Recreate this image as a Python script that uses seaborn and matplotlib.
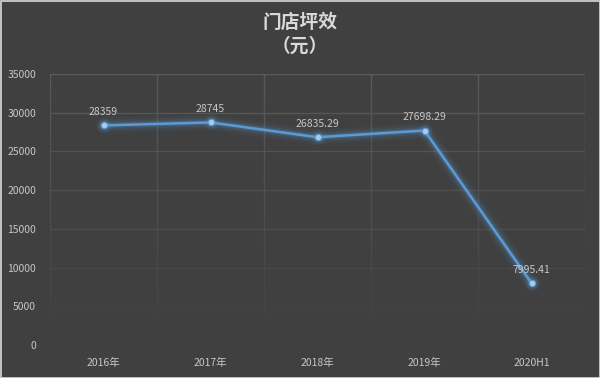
import numpy as np
import pandas as pd
import matplotlib
matplotlib.use("Agg")
import matplotlib.pyplot as plt
import seaborn as sns
from matplotlib.collections import LineCollection

categories = ["2016年", "2017年", "2018年", "2019年", "2020H1"]
values = [28359, 28745, 26835.29, 27698.29, 7995.41]
value_labels = ["28359", "28745", "26835.29", "27698.29", "7995.41"]
yticks = [0, 5000, 10000, 15000, 20000, 25000, 30000, 35000]

sns.set_theme(style="dark")
plt.rcParams['font.family'] = ['Noto Sans CJK SC', 'DejaVu Sans']

BG = "#404040"
GRID = "#5a5a5a"
TXT = "#c8c8c8"
LINE = "#5b9bd5"

fig = plt.figure(figsize=(6, 3.78), dpi=100, facecolor=BG)
ax = fig.add_axes([50/600, 1-345/378, 535/600, (345-74)/378])
ax.set_facecolor(BG)
for s in ax.spines.values():
    s.set_visible(False)

ax.set_xlim(-0.5, 4.5)
ax.set_ylim(0, 35000)

# fading gridlines
def alpha_at(y):
    return float(np.clip((y - 2000) / 33000, 0, 1)) ** 0.8

for yv in yticks[1:]:
    ax.axhline(yv, color=GRID, lw=1, alpha=alpha_at(yv), zorder=0)
ys = np.linspace(0, 35000, 60)
for xv in np.arange(-0.5, 5.0, 1.0):
    segs = [[(xv, ys[i]), (xv, ys[i+1])] for i in range(len(ys)-1)]
    alphas = [alpha_at(ys[i+1]) for i in range(len(ys)-1)]
    cols = [matplotlib.colors.to_rgba(GRID, a) for a in alphas]
    ax.add_collection(LineCollection(segs, colors=cols, linewidths=1, zorder=0))

df = pd.DataFrame({"cat": categories, "val": values, "x": range(len(categories))})

# glow
for lw, a in [(11, 0.05), (8, 0.07), (5.5, 0.11), (3.5, 0.16)]:
    ax.plot(df["x"], df["val"], color=LINE, lw=lw, alpha=a, solid_capstyle="round", zorder=2)
    ax.scatter(df["x"], df["val"], s=lw*12, color=LINE, alpha=a, lw=0, zorder=2)
sns.lineplot(data=df, x="x", y="val", ax=ax, color=LINE, lw=1.8, marker="o",
             markersize=4.5, markerfacecolor="#a9c9e8", markeredgecolor=LINE,
             markeredgewidth=0.6, zorder=3)

for xi, v, lab in zip(df["x"], values, value_labels):
    ax.annotate(lab, (xi, v), xytext=(0, 6), textcoords="offset points",
                ha="center", va="bottom", color=TXT, fontsize=7.5)

ax.set_xticks(range(len(categories)))
ax.set_xticklabels(categories)
ax.set_yticks(yticks)
ax.set_yticklabels([str(t) for t in yticks])
ax.tick_params(axis="both", colors=TXT, labelsize=7.5, length=0)
ax.tick_params(axis="y", pad=10)
ax.tick_params(axis="x", pad=9)
ax.set_xlabel("")
ax.set_ylabel("")
ax.grid(False)

fig.text(0.5, 1-22/378, "门店坪效", ha="center", va="center", color="#d9d9d9",
         fontsize=13.5, fontweight="bold")
fig.text(0.5, 1-46/378, "（元）", ha="center", va="center", color="#d9d9d9",
         fontsize=13.5, fontweight="bold")

border = plt.Rectangle((0.5/600, 0.5/378), 1-1/600, 1-1/378, transform=fig.transFigure,
                       fill=False, edgecolor="#d9d9d9", lw=1.2)
fig.add_artist(border)

fig.savefig("out.png", dpi=100, facecolor=BG)
